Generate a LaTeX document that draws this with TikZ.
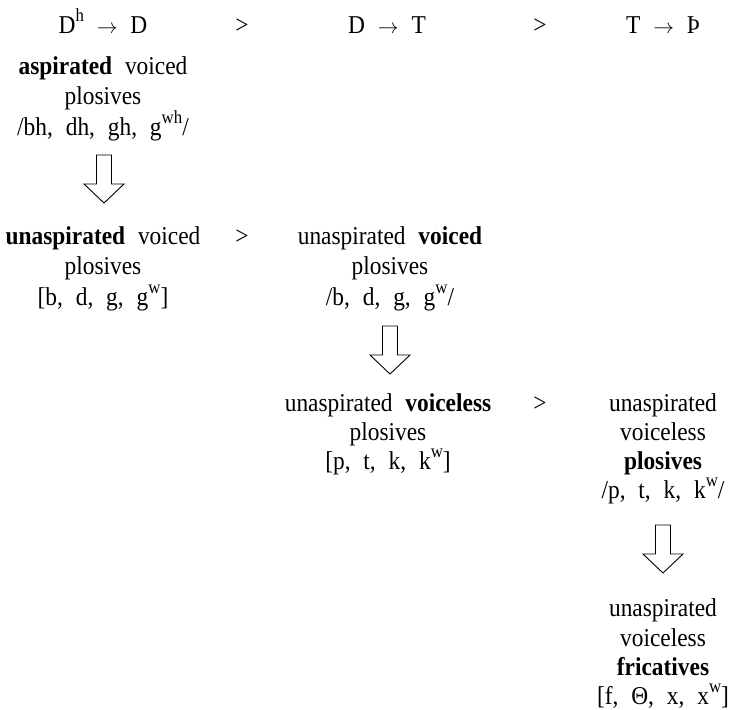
\documentclass[tikz,border=0pt]{standalone}
\usepackage{fontspec}
\setmainfont[FakeStretch=0.91]{Liberation Serif}
% body text size and superscripts
\newcommand\bodysz{\fontsize{25.7}{29.5}\selectfont}
\newcommand\sups[1]{\raisebox{0.45em}{\fontsize{18.5}{18.5}\selectfont #1}}
\newcommand\arr{{\fontsize{21}{21}\selectfont$\rightarrow$}}
\newcommand\gap{\hspace{0.5em}}
\tikzset{
  lbl/.style={anchor=base, inner sep=0pt, font=\bodysz},
  pics/hollowdown/.style={code={
    \draw[line width=0.9pt, line join=miter]
      (-7.5,0) -- (7.5,0) -- (7.5,29) -- (20,29) -- (0,48)
      -- (-20,29) -- (-7.5,29) -- cycle;}}
}
\begin{document}
\begin{tikzpicture}[x=1pt, y=-1pt]
\useasboundingbox (0,0) rectangle (729,710);

% header row
\node[lbl] (h1) at (103,33) {D\sups{h}\gap\arr\gap D};
\node[lbl] (g1) at (242,33) {>};
\node[lbl] (h2) at (387,33) {D\gap\arr\gap T};
\node[lbl] (g2) at (540,33) {>};
\node[lbl] (h3) at (663,33) {T\gap\arr\gap Þ};

% aspirated voiced plosives
\node[lbl] (a1) at (103,74)  {\textbf{aspirated}\gap voiced};
\node[lbl] (a2) at (103,104) {plosives};
\node[lbl] (a3) at (103,135) {/bh,\gap dh,\gap gh,\gap g\sups{wh}/};

\coordinate (ar1) at (104,155);
\pic at (ar1) {hollowdown};

% unaspirated voiced plosives (allophones)
\node[lbl] (b1) at (103,244) {\textbf{unaspirated}\gap voiced};
\node[lbl] (b2) at (103,274) {plosives};
\node[lbl] (b3) at (103,305) {[b,\gap d,\gap g,\gap g\sups{w}]};

\node[lbl] (g3) at (242,244) {>};

% unaspirated voiced plosives (phonemes)
\node[lbl] (c1) at (390,244) {unaspirated\gap\textbf{voiced}};
\node[lbl] (c2) at (390,274) {plosives};
\node[lbl] (c3) at (390,305) {/b,\gap d,\gap g,\gap g\sups{w}/};

\coordinate (ar2) at (390,326);
\pic at (ar2) {hollowdown};

% unaspirated voiceless plosives (allophones)
\node[lbl] (d1) at (388,411) {unaspirated\gap\textbf{voiceless}};
\node[lbl] (d2) at (388,440) {plosives};
\node[lbl] (d3) at (388,469) {[p,\gap t,\gap k,\gap k\sups{w}]};

\node[lbl] (g4) at (540,411) {>};

% unaspirated voiceless plosives (phonemes)
\node[lbl] (e1) at (663,411) {unaspirated};
\node[lbl] (e2) at (663,440) {voiceless};
\node[lbl] (e3) at (663,469) {\textbf{plosives}};
\node[lbl] (e4) at (663,498) {/p,\gap t,\gap k,\gap k\sups{w}/};

\coordinate (ar3) at (663,525);
\pic at (ar3) {hollowdown};

% unaspirated voiceless fricatives
\node[lbl] (f1) at (663,616) {unaspirated};
\node[lbl] (f2) at (663,646) {voiceless};
\node[lbl] (f3) at (663,675) {\textbf{fricatives}};
\node[lbl] (f4) at (663,704) {[f,\gap Θ,\gap x,\gap x\sups{w}]};
\end{tikzpicture}
\end{document}
